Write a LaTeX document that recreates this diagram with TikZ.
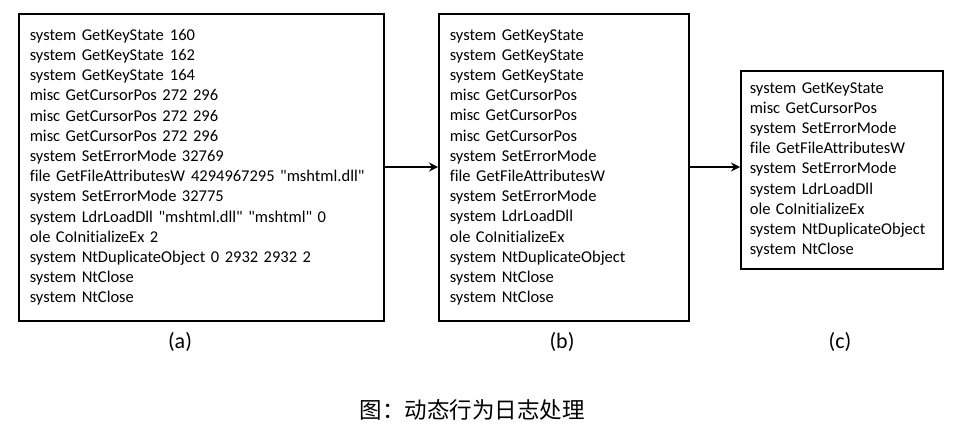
\documentclass[tikz,border=0pt]{standalone}
\usepackage{fontspec}
\setmainfont{Carlito}[Ligatures={TeXOff,CommonOff}]
\newfontfamily\cjk{Noto Sans CJK SC}
\usetikzlibrary{arrows.meta}
\newcommand\wsp{\hspace{6pt}}
\begin{document}
\begin{tikzpicture}[x=1pt,y=-1pt,
  logbox/.style={draw=black, line width=1.6pt, anchor=north west, align=left,
    inner xsep=11pt, inner ysep=0pt, font=\fontsize{16.5}{20.2}\selectfont},
  sublabel/.style={font=\fontsize{22}{24}\selectfont},
  flow/.style={line width=1.8pt, -{Stealth[length=9pt,width=9pt,inset=3pt]}}]
\useasboundingbox (0,0) rectangle (960,441);
\node[logbox, minimum width=365pt, minimum height=307pt, text width=343pt] (a) at (18,13) {system GetKeyState\wsp160\\
system GetKeyState\wsp162\\
system GetKeyState\wsp164\\
misc GetCursorPos 272 296\\
misc GetCursorPos 272 296\\
misc GetCursorPos 272 296\\
system SetErrorMode 32769\\
file GetFileAttributesW\wsp4294967295 "mshtml.dll"\\
system SetErrorMode 32775\\
system LdrLoadDll "mshtml.dll" "mshtml" 0\\
ole CoInitializeEx 2\\
system NtDuplicateObject 0 2932 2932 2\\
system NtClose\\
system NtClose};
\node[logbox, minimum width=250pt, minimum height=307pt, text width=228pt] (b) at (438,13) {system GetKeyState\\
system GetKeyState\\
system GetKeyState\\
misc GetCursorPos\\
misc GetCursorPos\\
misc GetCursorPos\\
system SetErrorMode\\
file GetFileAttributesW\\
system SetErrorMode\\
system LdrLoadDll\\
ole CoInitializeEx\\
system NtDuplicateObject\\
system NtClose\\
system NtClose};
\node[logbox, inner xsep=9pt, minimum width=202pt, minimum height=198pt, text width=184pt] (c) at (740,70) {system GetKeyState\\
misc GetCursorPos\\
system SetErrorMode\\
file GetFileAttributesW\\
system SetErrorMode\\
system LdrLoadDll\\
ole CoInitializeEx\\
system NtDuplicateObject\\
system NtClose};
\coordinate (ab1) at (383,167);
\coordinate (ab2) at (438,167);
\coordinate (bc1) at (688,167);
\coordinate (bc2) at (740,167);
\draw[flow] (ab1) -- (ab2);
\draw[flow] (bc1) -- (bc2);
\node[sublabel] (la) at (180,342) {(a)};
\node[sublabel] (lb) at (562,342) {(b)};
\node[sublabel] (lc) at (840,342) {(c)};
\node[font=\cjk\fontsize{22.5}{24}\selectfont] (cap) at (472,410) {图：动态行为日志处理};
\end{tikzpicture}
\end{document}
